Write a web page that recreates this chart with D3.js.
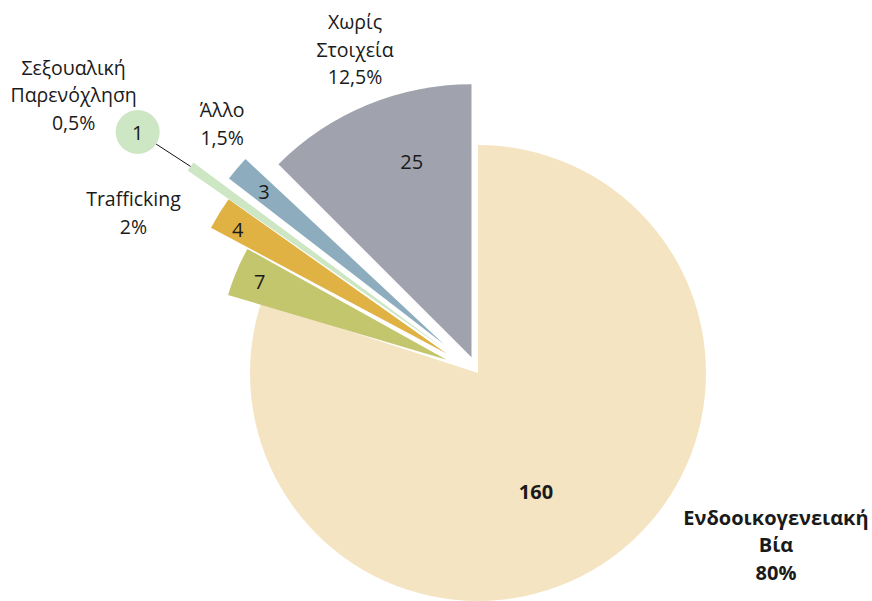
<!DOCTYPE html>
<html><head><meta charset="utf-8">
<script src="https://cdn.jsdelivr.net/npm/d3@7"></script>
<style>
html,body{margin:0;padding:0;background:#fff;}
svg{display:block;font-family:"Open Sans","Noto Sans",sans-serif;}
</style></head>
<body><div id="chart"></div>
<script>
// ---- data ----
const categories = ["Ενδοοικογενειακή Βία", "", "Trafficking", "Σεξουαλική Παρενόχληση", "Άλλο", "Χωρίς Στοιχεία"];
const values = [160, 7, 4, 1, 3, 25];
const percentLabels = ["80%", "", "2%", "0,5%", "1,5%", "12,5%"];
const colors = ["#f5e4c2", "#c3c66c", "#e0b143", "#cde6c4", "#8dadbf", "#a0a3ad"];

// ---- layout / style (per slice) ----
const outerR   = [228, 228, 267, 312, 271, 273];
const explode  = [0, 34, 37, 42, 45, 17];
const rotate   = [0, -1.5, -2.5, -3, -2, 0];        // degrees
const valK     = [0.58, 0.89, 0.91, 0, 0.87, 0.75]; // value label radius fraction
const valTweak = [10, 0, -1, 0, 0, 5.5];            // degrees

const W = 872, H = 601;
const cx = 478, cy = 373;
const rad = d => d * Math.PI / 180;
const polar = (a, r) => [Math.sin(rad(a)) * r, -Math.cos(rad(a)) * r];

const svg = d3.select("#chart").append("svg").attr("width", W).attr("height", H);
const g = svg.append("g").attr("transform", `translate(${cx},${cy})`);

const pie = d3.pie().sort(null).value(d => d)(values);

pie.forEach((p, i) => {
  const s = p.startAngle + rad(rotate[i]), e = p.endAngle + rad(rotate[i]);
  const mid = (s + e) / 2 * 180 / Math.PI;
  const [ox, oy] = polar(mid, explode[i]);
  const arc = d3.arc().innerRadius(0).outerRadius(outerR[i]).startAngle(s).endAngle(e);
  const sg = g.append("g").attr("transform", `translate(${ox},${oy})`);
  sg.append("path").attr("d", arc()).attr("fill", colors[i]);
  if (valK[i] > 0) {
    const [lx, ly] = polar(mid + valTweak[i], outerR[i] * valK[i]);
    sg.append("text").attr("x", lx).attr("y", ly)
      .attr("text-anchor", "middle").attr("dominant-baseline", "central")
      .attr("font-size", 20).attr("font-weight", i === 0 ? 700 : 400)
      .attr("fill", "#1a1a1a").text(values[i]);
  }
  p.mid = mid; p.ox = ox; p.oy = oy;
});

// callout circle for the tiny slice
const tiny = 3;
{
  const p = pie[tiny];
  const [ex, ey] = polar(p.mid, outerR[tiny]);
  const sx = p.ox + ex, sy = p.oy + ey;
  const [ccx, ccy] = polar(305.3, 417);
  const cr = 22;
  const d = Math.hypot(ccx - sx, ccy - sy);
  const tx = ccx + (sx - ccx) * cr / d, ty = ccy + (sy - ccy) * cr / d;
  g.append("line").attr("x1", sx).attr("y1", sy).attr("x2", tx).attr("y2", ty)
    .attr("stroke", "#111").attr("stroke-width", 1);
  g.append("circle").attr("cx", ccx).attr("cy", ccy).attr("r", cr).attr("fill", colors[tiny]);
  g.append("text").attr("x", ccx).attr("y", ccy).attr("text-anchor", "middle")
    .attr("dominant-baseline", "central").attr("font-size", 20).attr("fill", "#1a1a1a")
    .text(values[tiny]);
}

// category labels: [slice index, polar angle, polar radius, lines]
const catLabels = [
  [5, 340.7, 372, ["Χωρίς", "Στοιχεία"]],
  [3, 307.1, 507, ["Σεξουαλική", "Παρενόχληση"]],
  [4, 315.8, 367, ["Άλλο"]],
  [2, 296.8, 386, ["Trafficking"]],
  [0, 115.8, 331, ["Ενδοοικογενειακή", "Βία"]]
];
catLabels.forEach(([i, a, r, lines]) => {
  const [x, y] = polar(a, r);
  const bold = i === 0;
  const t = g.append("text").attr("x", x).attr("y", y)
    .attr("text-anchor", "middle").attr("font-size", bold ? 20 : 19.5)
    .attr("font-weight", bold ? 700 : 400).attr("fill", "#1a1a1a");
  lines.concat([percentLabels[i]]).forEach((l, k) => {
    t.append("tspan").attr("x", x).attr("y", y + k * 27.5)
      .attr("dominant-baseline", "central").text(l);
  });
});
</script></body></html>
